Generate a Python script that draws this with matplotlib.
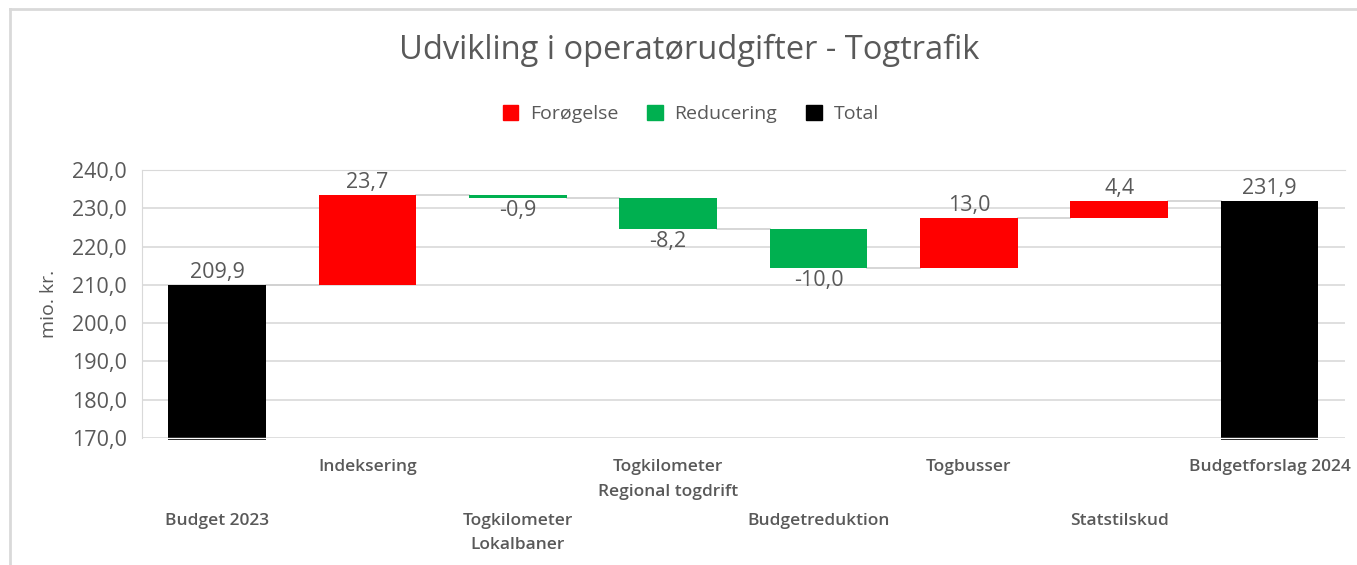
import matplotlib
matplotlib.use("Agg")
import matplotlib.pyplot as plt
from matplotlib.patches import Patch

plt.rcParams['font.family'] = ['Open Sans', 'DejaVu Sans']

categories = ['Budget 2023', 'Indeksering', 'Togkilometer\nLokalbaner',
              'Togkilometer\nRegional togdrift', 'Budgetreduktion',
              'Togbusser', 'Statstilskud', 'Budgetforslag 2024']
values = [209.9, 23.7, -0.9, -8.2, -10.0, 13.0, 4.4, 231.9]
kinds = ['total', 'step', 'step', 'step', 'step', 'step', 'step', 'total']
y_ticks = [170, 180, 190, 200, 210, 220, 230, 240]

colors = {'up': '#FF0000', 'down': '#00B050', 'total': '#000000'}
text_col = '#595959'
grid_col = '#D9D9D9'

fig = plt.figure(figsize=(13.57, 5.65), dpi=100)
ax = fig.add_axes([0.1046, 0.2248, 0.8864, 0.4742])

# figure frame (left and top only, the picture is cropped)
fig.add_artist(plt.Line2D([10 / 1357, 10 / 1357], [0, 1 - 9 / 565],
                          color='#D9D9D9', lw=2, transform=fig.transFigure))
fig.add_artist(plt.Line2D([10 / 1357, 1], [1 - 9 / 565, 1 - 9 / 565],
                          color='#D9D9D9', lw=2, transform=fig.transFigure))

width = 0.65
ymin = y_ticks[0]
lab_fs = 15.5
running = 0
tops = []
for i, (v, k) in enumerate(zip(values, kinds)):
    if k == 'total':
        running = v
        ax.bar(i, v - ymin + 0.5, bottom=ymin - 0.5, width=width,
               color=colors['total'], zorder=3, clip_on=False)
        ax.plot([i - width / 2, i + width / 2], [ymin, ymin], color='white',
                lw=1, zorder=4, clip_on=False)
        ax.text(i, v + 0.6, f'{v:.1f}'.replace('.', ','), ha='center',
                va='bottom', fontsize=lab_fs, color=text_col)
    else:
        start = running
        running = running + v
        col = colors['up'] if v > 0 else colors['down']
        ax.bar(i, abs(v), bottom=min(start, running), width=width, color=col,
               zorder=3)
        if v > 0:
            ax.text(i, running + 0.5, f'{v:.1f}'.replace('.', ','),
                    ha='center', va='bottom', fontsize=lab_fs, color=text_col)
        else:
            ax.text(i, running - 0.5, f'{v:.1f}'.replace('.', ','),
                    ha='center', va='top', fontsize=lab_fs, color=text_col)
    tops.append(running)

# connector lines
for i in range(len(values) - 1):
    ax.plot([i + width / 2, i + 1 - width / 2], [tops[i], tops[i]],
            color='#D0D0D0', lw=1.2, zorder=2)

ax.set_xlim(-0.5, len(values) - 0.5)
ax.set_ylim(y_ticks[0], y_ticks[-1])
ax.set_yticks(y_ticks)
ax.set_yticklabels([f'{t:.1f}'.replace('.', ',') for t in y_ticks],
                   fontsize=lab_fs, color=text_col)
ax.tick_params(axis='y', length=0, pad=11)
ax.set_xticks([])
ax.grid(axis='y', color=grid_col, lw=1.2, zorder=0)
for s in ['right', 'bottom']:
    ax.spines[s].set_visible(False)
ax.spines['left'].set_color(grid_col)
ax.spines['top'].set_color(grid_col)
ax.set_axisbelow(True)

ax.set_ylabel('mio. kr.', fontsize=14, color=text_col, labelpad=10)

# staggered category labels
for i, c in enumerate(categories):
    y = -0.08 if i % 2 == 1 else -0.28
    ax.text(i, y, c, transform=ax.get_xaxis_transform(), ha='center',
            va='top', fontsize=12.5, color=text_col, fontweight='semibold',
            linespacing=1.68)

fig.text(0.508, 0.91, 'Udvikling i operatørudgifter - Togtrafik',
         ha='center', va='center', fontsize=23.5, color=text_col)

handles = [Patch(color=colors['up'], label='Forøgelse'),
           Patch(color=colors['down'], label='Reducering'),
           Patch(color=colors['total'], label='Total')]
fig.legend(handles=handles, loc='center', bbox_to_anchor=(0.509, 0.798),
           ncol=3, frameon=False, fontsize=14, labelcolor=text_col,
           handlelength=0.8, handleheight=0.8, handletextpad=0.6,
           columnspacing=1.5)

fig.savefig('out.png', dpi=100)
